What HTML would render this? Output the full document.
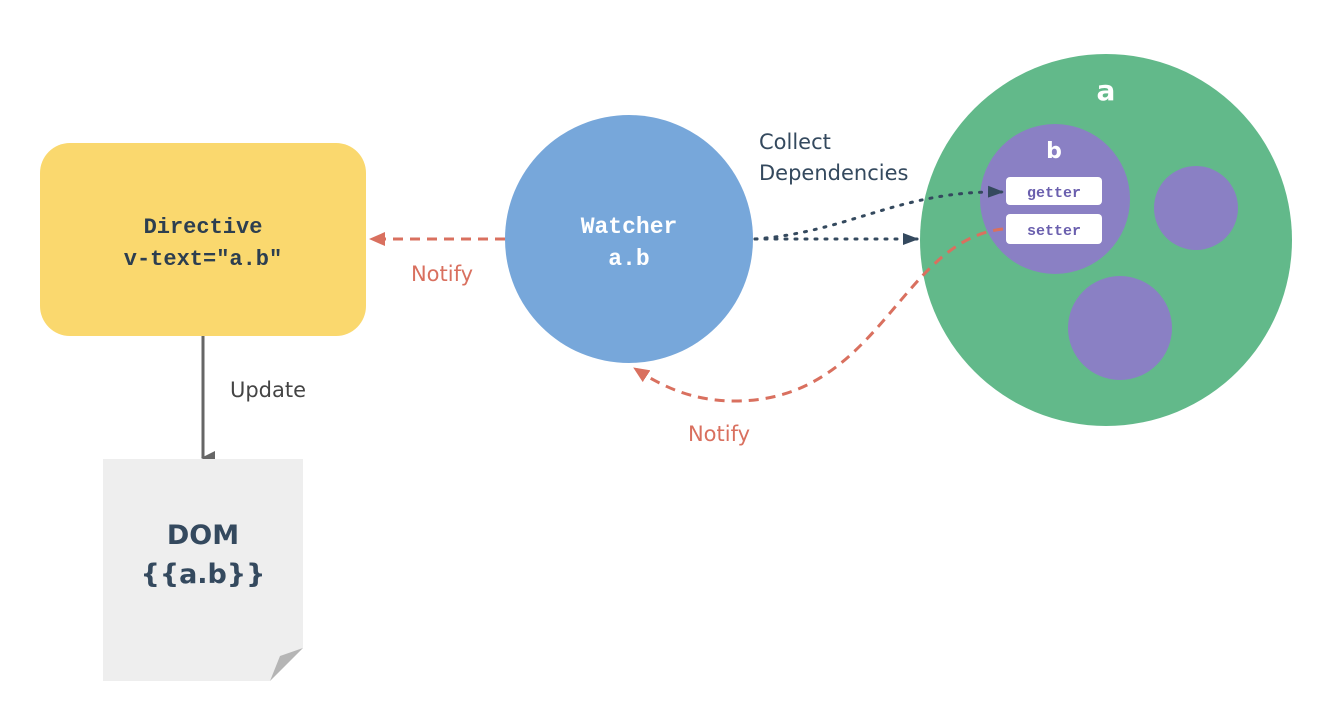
<!DOCTYPE html>
<html><head><meta charset="utf-8"><style>
html,body{margin:0;padding:0;background:#fff;}
svg{display:block;}
.mono{font-family:"Liberation Mono",monospace;font-weight:bold;}
.sans{font-family:"DejaVu Sans","Liberation Sans",sans-serif;}
</style></head><body>
<svg width="1324" height="728" viewBox="0 0 1324 728" xmlns="http://www.w3.org/2000/svg">
<defs>
<marker id="ar" markerWidth="10" markerHeight="10" refX="8" refY="5" orient="auto" markerUnits="userSpaceOnUse"><path d="M0,0 L10,5 L0,10 z" fill="#d9705f"/></marker>
<marker id="ad" markerWidth="16" markerHeight="12" refX="15" refY="6" orient="auto" markerUnits="userSpaceOnUse"><path d="M0,0 L16,6 L0,12 z" fill="#34495e"/></marker>
<marker id="ag" markerWidth="14" markerHeight="14" refX="7" refY="12" orient="auto" markerUnits="userSpaceOnUse"><path d="M0,0 L14,0 L7,14 z" fill="#666"/></marker>
<marker id="ar2" markerWidth="16" markerHeight="14" refX="15" refY="7" orient="auto" markerUnits="userSpaceOnUse"><path d="M0,0 L16,7 L0,14 z" fill="#d9705f"/></marker>
</defs>
<rect x="40" y="143" width="326" height="193" rx="30" fill="#fad86e"/>
<text x="203" y="233" text-anchor="middle" class="mono" font-size="22" fill="#2c3e50">Directive</text>
<text x="203" y="265" text-anchor="middle" class="mono" font-size="22" fill="#2c3e50">v-text="a.b"</text>
<line x1="203" y1="336" x2="203" y2="458" stroke="#666" stroke-width="3" marker-end="url(#ag)"/>
<text x="268" y="397" text-anchor="middle" class="sans" font-size="21" fill="#444">Update</text>
<path d="M103,459 L303,459 L303,648 L270,681 L103,681 z" fill="#eeeeee"/>
<path d="M270,681 L280,656 L303,648 z" fill="#b5b5b5"/>
<text x="203" y="544" text-anchor="middle" class="sans" font-weight="bold" font-size="27" fill="#34495e">DOM</text>
<text x="203" y="583" text-anchor="middle" class="sans" font-weight="bold" font-size="27" fill="#34495e">{{a.b}}</text>
<circle cx="629" cy="239" r="124" fill="#77a7da"/>
<text x="629" y="233" text-anchor="middle" class="mono" font-size="23" fill="#fff">Watcher</text>
<text x="629" y="265" text-anchor="middle" class="mono" font-size="23" fill="#fff">a.b</text>
<line x1="505" y1="239" x2="370" y2="239" stroke="#d9705f" stroke-width="3" stroke-dasharray="10,7" marker-end="url(#ar2)"/>
<text x="442" y="281" text-anchor="middle" class="sans" font-size="21" fill="#d9705f">Notify</text>
<circle cx="1106" cy="240" r="186" fill="#62b98a"/>
<text x="1106" y="100" text-anchor="middle" class="sans" font-weight="bold" font-size="28" fill="#fff">a</text>
<circle cx="1055" cy="199" r="75" fill="#8a80c4"/>
<circle cx="1196" cy="208" r="42" fill="#8a80c4"/>
<circle cx="1120" cy="328" r="52" fill="#8a80c4"/>
<text x="1054" y="158" text-anchor="middle" class="sans" font-weight="bold" font-size="22" fill="#fff">b</text>
<rect x="1006" y="177" width="96" height="28" rx="4" fill="#fff"/>
<rect x="1006" y="214" width="96" height="30" rx="4" fill="#fff"/>
<text x="1054" y="197" text-anchor="middle" class="mono" font-size="15" fill="#6a5fae">getter</text>
<text x="1054" y="235" text-anchor="middle" class="mono" font-size="15" fill="#6a5fae">setter</text>
<text x="759" y="149" class="sans" font-size="21" fill="#34495e">Collect</text>
<text x="759" y="180" class="sans" font-size="21" fill="#34495e">Dependencies</text>
<line x1="755" y1="239" x2="918" y2="239" stroke="#34495e" stroke-width="3" stroke-dasharray="2,8" stroke-linecap="round" marker-end="url(#ad)"/>
<path d="M755,239 C850,232 900,190 1003,192" fill="none" stroke="#34495e" stroke-width="3" stroke-dasharray="2,8" stroke-linecap="round" marker-end="url(#ad)"/>
<path d="M1003,229 C900,240 880,401 735,401 C690,401 660,385 634,368" fill="none" stroke="#d9705f" stroke-width="3" stroke-dasharray="10,7" marker-end="url(#ar2)"/>
<text x="719" y="441" text-anchor="middle" class="sans" font-size="21" fill="#d9705f">Notify</text>
</svg>
</body></html>
